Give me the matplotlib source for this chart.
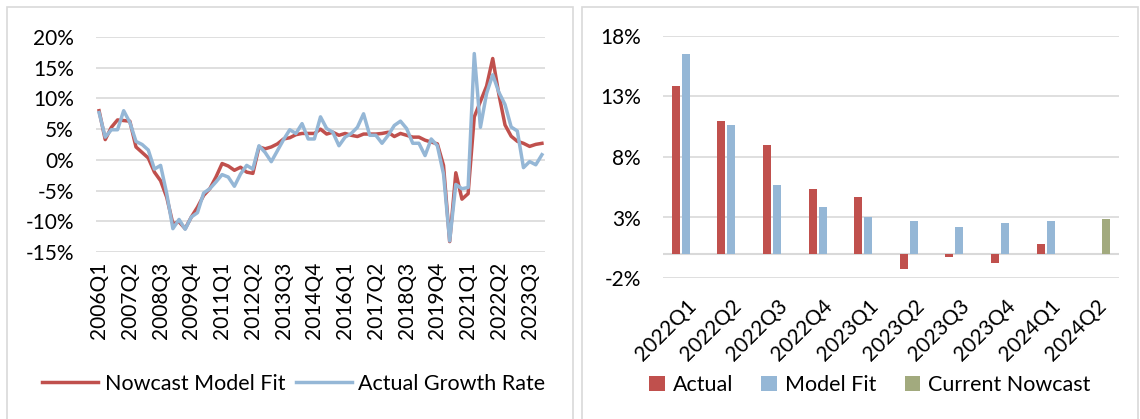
import pandas as pd
import matplotlib.pyplot as plt
from matplotlib.patches import Rectangle
from matplotlib.ticker import FuncFormatter, FixedLocator

plt.rcParams['font.family'] = ['Lato', 'DejaVu Sans']

# quarterly growth, 2006Q1 - 2024Q1 (percent)
quarters = [str(p) for p in pd.period_range('2006Q1', '2024Q1', freq='Q')]

actual = [7.7, 3.7, 4.9, 4.9, 8.0, 6.1, 3.0, 2.5, 1.6, -1.5,
          -0.9, -5.5, -11.2, -9.7, -11.3, -9.3, -8.6, -5.4, -4.7, -3.6,
          -2.4, -2.8, -4.3, -2.3, -0.9, -1.5, 2.3, 1.2, -0.3, 1.5,
          3.3, 4.9, 4.3, 5.9, 3.4, 3.4, 7.0, 5.1, 4.5, 2.3,
          3.7, 4.3, 5.3, 7.5, 4.0, 4.0, 2.7, 4.0, 5.6, 6.3,
          5.1, 2.7, 2.7, 0.7, 3.4, 2.3, -2.3, -13.2, -4.0, -4.7,
          -4.5, 17.3, 5.3, 10.8, 13.85, 11.0, 9.0, 5.35, 4.7, -1.27,
          -0.28, -0.8, 0.84]

model = [8.0, 3.3, 5.3, 6.5, 6.4, 6.3, 2.1, 1.2, 0.3, -2.0,
         -3.4, -6.1, -10.4, -10.1, -11.2, -9.3, -7.7, -5.8, -4.7, -2.8,
         -0.6, -1.0, -1.7, -1.2, -2.0, -2.2, 2.1, 1.8, 2.1, 2.6,
         3.4, 3.6, 4.1, 4.3, 4.3, 4.3, 5.0, 4.2, 4.5, 4.0,
         4.3, 4.0, 3.8, 4.2, 4.2, 4.2, 4.3, 4.5, 3.8, 4.3,
         4.0, 3.7, 3.7, 3.2, 2.9, 2.6, -0.9, -13.3, -2.1, -6.4,
         -5.5, 7.0, 9.5, 12.0, 16.5, 10.66, 5.68, 3.85, 3.02, 2.69,
         2.19, 2.52, 2.69]

# recent quarters for the bar panel
recent = quarters[-9:] + ['2024Q2']
recent_actual = actual[-9:]
recent_model = model[-9:]
nowcast = 2.85

RED = '#C0504D'
BLUE = '#95B7D6'
GREEN = '#A2AA7E'
GRID = '#D9D9D9'
FS = 15

fig = plt.figure(figsize=(11.4, 4.19), dpi=100)
W, H = 1140, 419


def px(x0, y0, x1, y1):
    # pixel box (top-left origin) -> figure fraction rect
    return [x0 / W, 1 - y1 / H, (x1 - x0) / W, (y1 - y0) / H]


# panel frames
for x0, x1 in [(7, 573), (582, 1138)]:
    fig.patches.append(Rectangle((x0 / W, -0.01), (x1 - x0) / W, 1 - 7 / H + 0.01,
                                 transform=fig.transFigure, fill=False,
                                 edgecolor=GRID, linewidth=1.2))

pct = FuncFormatter(lambda v, _: f'{v:.0f}%')


def style(ax):
    for s in ax.spines.values():
        s.set_visible(False)
    ax.tick_params(length=0, labelsize=FS)
    ax.grid(axis='y', color=GRID, linewidth=1.2)
    ax.set_axisbelow(True)


# left: line chart
ax1 = fig.add_axes(px(96, 37, 545, 252))
style(ax1)
xs = range(len(quarters))
ax1.plot(xs, model, color=RED, linewidth=2.5, label='Nowcast Model Fit', solid_joinstyle='round')
ax1.plot(xs, actual, color=BLUE, linewidth=2.5, label='Actual Growth Rate', solid_joinstyle='round')
ax1.set_xlim(-0.5, len(quarters) - 0.5)
ax1.set_ylim(-15, 20)
ax1.yaxis.set_major_locator(FixedLocator(range(-15, 21, 5)))
ax1.yaxis.set_major_formatter(pct)
ax1.set_xticks(list(xs)[::5])
ax1.set_xticklabels(quarters[::5], rotation=90)
ax1.tick_params(axis='y', pad=16)
ax1.tick_params(axis='x', pad=7)

fig.legend(*ax1.get_legend_handles_labels(), loc='center', ncol=2,
           bbox_to_anchor=(294 / W, 1 - 384 / H), frameon=False, fontsize=FS + 0.5,
           handlelength=2.6, handletextpad=0.3, columnspacing=0.5)

# right: bar chart
ax2 = fig.add_axes(px(663, 36, 1119, 278))
style(ax2)
bw = 0.175
pos = range(len(recent))
ax2.bar([p - 0.22 for p in pos[:-1]], recent_actual, bw, color=RED, label='Actual')
ax2.bar([p for p in pos[:-1]], recent_model, bw, color=BLUE, label='Model Fit')
ax2.bar([pos[-1] + 0.22], [nowcast], bw, color=GREEN, label='Current Nowcast')
ax2.axhline(0, color=GRID, linewidth=1.5, zorder=0.5)
ax2.set_xlim(-0.5, len(recent) - 0.5)
ax2.set_ylim(-2, 18)
ax2.yaxis.set_major_locator(FixedLocator(range(-2, 19, 5)))
ax2.yaxis.set_major_formatter(pct)
ax2.set_xticks(list(pos))
ax2.set_xticklabels(recent, rotation=45, ha='right', rotation_mode='anchor')
ax2.tick_params(axis='y', pad=16)
ax2.tick_params(axis='x', pad=13)

fig.legend(*ax2.get_legend_handles_labels(), loc='center', ncol=3,
           bbox_to_anchor=(870 / W, 1 - 385 / H), frameon=False, fontsize=FS + 0.5,
           handlelength=0.7, handleheight=0.7, handletextpad=0.4, columnspacing=1.3)

fig.savefig('out.png', dpi=100)
